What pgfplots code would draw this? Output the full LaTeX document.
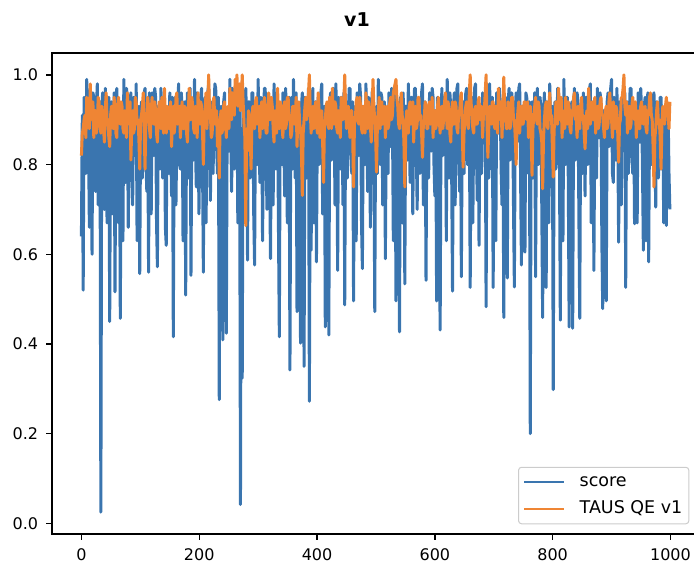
\documentclass[border=0pt]{standalone}
\usepackage{fontspec}
\setmainfont{DejaVu Sans}
\usepackage{pgfplots}
\usepackage{pgfplotstable}
\pgfplotsset{compat=1.18}
\definecolor{mblue}{RGB}{58,117,175}
\definecolor{morange}{RGB}{239,133,52}
\pgfplotstableread{
x score taus
0 0.64 0.82
1.5 0.91 0.87
3 0.52 0.88
4.5 0.95 0.90
6 0.93 0.91
7.5 0.78 0.86
9 0.99 0.95
10.5 0.84 0.92
12 0.86 0.93
13.5 0.66 0.88
15 0.97 0.98
16.5 0.90 0.91
18 0.60 0.90
19.5 0.96 0.94
21 0.95 0.86
22.5 0.80 0.92
24 0.74 0.92
25.5 0.93 0.87
27 0.98 0.89
28.5 0.71 0.95
30 0.81 0.94
31.5 0.94 0.89
33 0.025 0.87
34.5 0.92 0.93
36 0.96 0.91
37.5 0.83 0.88
39 0.70 0.85
40.5 0.97 0.92
42 0.93 0.96
43.5 0.67 0.90
45 0.88 0.90
46.5 0.95 0.86
48 0.45 0.84
49.5 0.90 0.91
51 0.94 0.93
52.5 0.69 0.89
54 0.78 0.88
55.5 0.96 0.95
57 0.516 0.92
58.5 0.88 0.87
60 0.97 0.86
61.5 0.80 0.93
63 0.67 0.95
64.5 0.93 0.90
66 0.457 0.89
67.5 0.85 0.94
69 0.91 0.93
70.5 0.63 0.88
72 0.99 0.87
73.5 0.89 0.92
75 0.76 0.91
76.5 0.97 0.86
78 0.95 0.96
79.5 0.66 0.91
81 0.84 0.89
82.5 0.94 0.94
84 0.96 0.81
85.5 0.79 0.89
87 0.71 0.92
88.5 0.95 0.87
90 0.93 0.88
91.5 0.82 0.95
93 0.98 0.94
94.5 0.63 0.89
96 0.80 0.90
97.5 0.93 0.86
99 0.557 0.79
100.5 0.90 0.90
102 0.94 0.91
103.5 0.77 0.93
105 0.87 0.96
106.5 0.96 0.88
108 0.97 0.79
109.5 0.81 0.91
111 0.74 0.90
112.5 0.92 0.95
114 0.56 0.93
115.5 0.96 0.88
117 0.92 0.86
118.5 0.69 0.92
120 0.96 0.95
121.5 0.88 0.90
123 0.82 0.89
124.5 0.97 0.94
126 0.95 0.92
127.5 0.67 0.87
129 0.572 0.85
130.5 0.93 0.91
132 0.91 0.94
133.5 0.79 0.89
135 0.97 0.88
136.5 0.85 0.95
138 0.77 0.91
139.5 0.95 0.87
141 0.94 0.97
142.5 0.66 0.90
144 0.62 0.87
145.5 0.92 0.93
147 0.89 0.92
148.5 0.78 0.88
150 0.96 0.90
151.5 0.86 0.94
153 0.73 0.84
154.5 0.95 0.90
156 0.416 0.93
157.5 0.91 0.87
159 0.95 0.89
160.5 0.71 0.95
162 0.88 0.96
163.5 0.93 0.89
165 0.98 0.91
166.5 0.80 0.93
168 0.79 0.86
169.5 0.96 0.91
171 0.93 0.94
172.5 0.63 0.88
174 0.69 0.88
175.5 0.94 0.93
177 0.509 0.92
178.5 0.89 0.87
180 0.96 0.85
181.5 0.77 0.92
183 0.90 0.97
184.5 0.97 0.90
186 0.553 0.90
187.5 0.92 0.95
189 0.94 0.93
190.5 0.81 0.88
192 0.99 0.87
193.5 0.85 0.93
195 0.75 0.91
196.5 0.96 0.86
198 0.92 0.96
199.5 0.69 0.90
201 0.85 0.89
202.5 0.95 0.94
204 0.97 0.93
205.5 0.82 0.88
207 0.56 0.80
208.5 0.93 0.91
210 0.95 0.92
211.5 0.67 0.96
213 0.81 0.88
214.5 0.96 0.93
216 0.98 1.00
217.5 0.87 0.92
219 0.72 0.91
220.5 0.93 0.86
222 0.94 0.87
223.5 0.78 0.94
225 0.89 0.95
226.5 0.98 0.89
228 0.97 0.90
229.5 0.84 0.92
231 0.78 0.84
232.5 0.95 0.89
234 0.276 0.77
235.5 0.90 0.90
237 0.93 0.92
238.5 0.80 0.87
240 0.409 0.88
241.5 0.94 0.93
243 0.96 0.94
244.5 0.71 0.90
246 0.424 0.86
247.5 0.92 0.92
249 0.91 0.93
250.5 0.83 0.88
252 0.99 0.97
253.5 0.88 0.93
255 0.74 0.90
256.5 0.97 0.96
258 0.95 0.95
259.5 0.79 0.91
261 0.86 0.99
262.5 0.95 0.94
264 0.98 1.00
265.5 0.67 0.93
267 0.80 0.96
268.5 0.93 0.98
270 0.042 0.92
271.5 0.88 0.95
273 0.324 1.00
274.5 0.95 0.94
276 0.92 0.89
277.5 0.81 0.86
279 0.97 0.664
280.5 0.90 0.88
282 0.587 0.83
283.5 0.94 0.92
285 0.94 0.91
286.5 0.77 0.87
288 0.88 0.79
289.5 0.96 0.90
291 0.96 0.93
292.5 0.69 0.89
294 0.576 0.88
295.5 0.93 0.94
297 0.91 0.95
298.5 0.80 0.89
300 0.99 0.90
301.5 0.86 0.93
303 0.76 0.86
304.5 0.95 0.91
306 0.93 0.94
307.5 0.63 0.88
309 0.85 0.89
310.5 0.97 0.95
312 0.97 0.92
313.5 0.82 0.87
315 0.70 0.87
316.5 0.94 0.92
318 0.95 0.96
319.5 0.78 0.90
321 0.59 0.90
322.5 0.91 0.95
324 0.92 0.93
325.5 0.71 0.88
327 0.98 0.85
328.5 0.88 0.92
330 0.79 0.91
331.5 0.96 0.87
333 0.94 0.97
334.5 0.66 0.91
336 0.416 0.88
337.5 0.93 0.94
339 0.90 0.92
340.5 0.80 0.89
342 0.96 0.86
343.5 0.87 0.93
345 0.73 0.94
346.5 0.97 0.88
348 0.93 0.89
349.5 0.67 0.95
351 0.88 0.95
352.5 0.95 0.90
354 0.342 0.91
355.5 0.90 0.86
357 0.95 0.87
358.5 0.79 0.93
360 0.99 0.93
361.5 0.84 0.89
363 0.77 0.90
364.5 0.96 0.95
366 0.472 0.84
367.5 0.89 0.91
369 0.92 0.94
370.5 0.63 0.89
372 0.402 0.88
373.5 0.93 0.83
375 0.96 0.731
376.5 0.82 0.87
378 0.35 0.90
379.5 0.95 0.93
381 0.94 0.95
382.5 0.77 0.90
384 0.89 0.92
385.5 0.97 0.96
387 0.272 1.00
388.5 0.91 0.92
390 0.609 0.87
391.5 0.95 0.91
393 0.97 0.93
394.5 0.67 0.88
396 0.83 0.89
397.5 0.94 0.94
399 0.583 0.91
400.5 0.90 0.87
402 0.95 0.96
403.5 0.80 0.92
405 0.90 0.86
406.5 0.96 0.90
408 0.98 0.92
409.5 0.69 0.85
411 0.75 0.76
412.5 0.93 0.88
414 0.438 0.90
415.5 0.88 0.93
417 0.93 0.94
418.5 0.78 0.89
420 0.42 0.88
421.5 0.94 0.95
423 0.96 0.92
424.5 0.81 0.88
426 0.84 0.97
427.5 0.97 0.91
429 0.92 0.89
430.5 0.71 0.94
432 0.98 0.93
433.5 0.87 0.88
435 0.564 0.87
436.5 0.95 0.92
438 0.91 0.91
439.5 0.79 0.86
441 0.95 0.95
442.5 0.90 0.90
444 0.71 0.90
445.5 0.96 0.94
447 0.487 1.00
448.5 0.92 0.93
450 0.94 0.88
451.5 0.77 0.91
453 0.89 0.93
454.5 0.97 0.89
456 0.97 0.86
457.5 0.83 0.92
459 0.78 0.92
460.5 0.94 0.87
462 0.496 0.75
463.5 0.91 0.89
465 0.93 0.90
466.5 0.63 0.94
468 0.96 0.95
469.5 0.88 0.90
471 0.82 0.89
472.5 0.98 0.95
474 0.95 0.93
475.5 0.67 0.88
477 0.568 0.87
478.5 0.93 0.93
480 0.91 0.91
481.5 0.80 0.87
483 0.98 0.96
484.5 0.86 0.92
486 0.74 0.88
487.5 0.95 0.94
489 0.94 0.92
490.5 0.66 0.89
492 0.87 0.85
493.5 0.96 0.92
495 0.97 0.99
496.5 0.84 0.93
498 0.472 0.90
499.5 0.92 0.86
501 0.93 0.783
502.5 0.78 0.89
504 0.99 0.92
505.5 0.89 0.95
507 0.80 0.88
508.5 0.96 0.91
510 0.95 0.94
511.5 0.71 0.89
513 0.72 0.90
514.5 0.94 0.93
516 0.59 0.86
517.5 0.90 0.91
519 0.92 0.93
520.5 0.78 0.88
522 0.96 0.89
523.5 0.87 0.94
525 0.84 0.95
526.5 0.97 0.90
528 0.91 0.91
529.5 0.63 0.96
531 0.97 0.97
532.5 0.93 0.98
534 0.496 0.99
535.5 0.89 0.95
537 0.94 0.93
538.5 0.79 0.89
540 0.427 0.88
541.5 0.95 0.92
543 0.89 0.96
544.5 0.67 0.91
546 0.96 0.90
547.5 0.91 0.85
549 0.534 0.75
550.5 0.93 0.86
552 0.93 0.92
553.5 0.81 0.88
555 0.98 0.87
556.5 0.88 0.93
558 0.76 0.94
559.5 0.95 0.89
561 0.95 0.90
562.5 0.69 0.94
564 0.88 0.85
565.5 0.97 0.91
567 0.97 0.93
568.5 0.84 0.88
570 0.70 0.89
571.5 0.93 0.95
573 0.94 0.95
574.5 0.78 0.90
576 0.90 0.91
577.5 0.96 0.87
579 0.98 0.816
580.5 0.71 0.89
582 0.79 0.90
583.5 0.94 0.94
585 0.542 0.93
586.5 0.90 0.88
588 0.93 0.88
589.5 0.77 0.93
591 0.96 0.94
592.5 0.86 0.89
594 0.83 0.90
595.5 0.97 0.95
597 0.95 0.86
598.5 0.80 0.92
600 0.73 0.92
601.5 0.92 0.88
603 0.496 0.89
604.5 0.95 0.93
606 0.92 0.95
607.5 0.67 0.90
609 0.431 0.87
610.5 0.91 0.92
612 0.97 0.93
613.5 0.82 0.88
615 0.86 0.90
616.5 0.95 0.94
618 0.94 0.96
619.5 0.63 0.91
621 0.99 0.88
622.5 0.88 0.94
624 0.77 0.92
625.5 0.96 0.87
627 0.93 0.85
628.5 0.79 0.91
630 0.518 0.94
631.5 0.92 0.89
633 0.96 0.89
634.5 0.71 0.94
636 0.89 0.93
637.5 0.97 0.88
639 0.98 0.87
640.5 0.83 0.92
642 0.74 0.91
643.5 0.94 0.95
645 0.55 0.96
646.5 0.90 0.88
648 0.94 0.794
649.5 0.78 0.87
651 0.91 0.90
652.5 0.96 0.93
654 0.97 0.94
655.5 0.80 0.89
657 0.81 0.88
658.5 0.95 0.96
660 0.526 1.00
661.5 0.89 0.94
663 0.95 0.91
664.5 0.67 0.88
666 0.90 0.87
667.5 0.97 0.92
669 0.98 0.93
670.5 0.84 0.89
672 0.72 0.89
673.5 0.93 0.94
675 0.62 0.95
676.5 0.91 0.90
678 0.93 0.90
679.5 0.78 0.93
681 0.96 0.86
682.5 0.88 0.91
684 0.85 0.92
685.5 0.96 0.96
687 0.483 1.00
688.5 0.92 0.90
690 0.94 0.816
691.5 0.77 0.88
693 0.98 0.93
694.5 0.87 0.90
696 0.79 0.89
697.5 0.95 0.94
699 0.526 0.94
700.5 0.90 0.89
702 0.92 0.88
703.5 0.63 0.93
705 0.96 0.92
706.5 0.89 0.87
708 0.87 0.97
709.5 0.97 0.91
711 0.94 0.90
712.5 0.79 0.94
714 0.71 0.86
715.5 0.93 0.92
717 0.459 0.995
718.5 0.91 0.93
720 0.95 0.91
721.5 0.67 0.88
723 0.547 0.88
724.5 0.94 0.94
726 0.97 0.93
727.5 0.81 0.88
729 0.83 0.89
730.5 0.96 0.95
732 0.93 0.95
733.5 0.71 0.90
735 0.527 0.90
736.5 0.92 0.86
738 0.96 0.80
739.5 0.85 0.89
741 0.89 0.92
742.5 0.97 0.94
744 0.98 0.87
745.5 0.78 0.91
747 0.576 0.93
748.5 0.93 0.89
750 0.92 0.89
751.5 0.63 0.94
753 0.605 0.94
754.5 0.96 0.91
756 0.95 0.90
757.5 0.86 0.94
759 0.78 0.86
760.5 0.94 0.91
762 0.20 0.93
763.5 0.90 0.87
765 0.94 0.776
766.5 0.77 0.88
768 0.88 0.91
769.5 0.96 0.93
771 0.55 0.95
772.5 0.92 0.90
774 0.97 0.89
775.5 0.80 0.94
777 0.82 0.93
778.5 0.95 0.88
780 0.93 0.87
781.5 0.71 0.85
783 0.459 0.746
784.5 0.91 0.86
786 0.96 0.90
787.5 0.83 0.93
789 0.526 0.94
790.5 0.94 0.89
792 0.91 0.88
793.5 0.67 0.93
795 0.98 0.96
796.5 0.89 0.90
798 0.75 0.91
799.5 0.93 0.84
801 0.298 0.772
802.5 0.90 0.88
804 0.94 0.89
805.5 0.79 0.94
807 0.87 0.93
808.5 0.97 0.89
810 0.96 0.97
811.5 0.82 0.92
813 0.453 0.90
814.5 0.93 0.95
816 0.93 0.86
817.5 0.63 0.91
819 0.99 0.92
820.5 0.88 0.88
822 0.80 0.95
823.5 0.95 0.90
825 0.95 0.89
826.5 0.77 0.94
828 0.438 0.93
829.5 0.90 0.88
831 0.90 0.87
832.5 0.94 0.92
834 0.435 0.91
835.5 0.92 0.95
837 0.97 0.96
838.5 0.81 0.90
840 0.84 0.90
841.5 0.96 0.86
843 0.94 0.93
844.5 0.69 0.89
846 0.457 0.88
847.5 0.91 0.93
849 0.92 0.95
850.5 0.78 0.90
852 0.96 0.91
853.5 0.89 0.87
855 0.73 0.835
856.5 0.95 0.89
858 0.95 0.92
859.5 0.80 0.88
861 0.89 0.97
862.5 0.97 0.93
864 0.98 0.89
865.5 0.67 0.92
867 0.81 0.94
868.5 0.94 0.90
870 0.564 0.90
871.5 0.90 0.95
873 0.93 0.87
874.5 0.77 0.92
876 0.97 0.93
877.5 0.86 0.88
879 0.86 0.89
880.5 0.96 0.94
882 0.94 0.95
883.5 0.63 0.91
885 0.479 0.91
886.5 0.92 0.88
888 0.91 0.86
889.5 0.79 0.92
891 0.496 0.93
892.5 0.94 0.88
894 0.96 0.89
895.5 0.84 0.94
897 0.88 0.96
898.5 0.97 0.91
900 0.99 0.90
901.5 0.78 0.86
903 0.76 0.94
904.5 0.95 0.90
906 0.93 0.88
907.5 0.81 0.93
909 0.97 0.92
910.5 0.88 0.87
912 0.627 0.805
913.5 0.94 0.89
915 0.92 0.90
916.5 0.71 0.95
918 0.95 0.95
919.5 0.90 0.97
921 0.83 1.00
922.5 0.96 0.93
924 0.526 0.91
925.5 0.91 0.94
927 0.94 0.87
928.5 0.78 0.92
930 0.90 0.93
931.5 0.97 0.88
933 0.97 0.89
934.5 0.82 0.93
936 0.78 0.95
937.5 0.94 0.91
939 0.668 0.90
940.5 0.91 0.94
942 0.93 0.86
943.5 0.67 0.90
945 0.96 0.92
946.5 0.88 0.88
948 0.85 0.88
949.5 0.97 0.93
951 0.92 0.94
952.5 0.79 0.90
954 0.609 0.89
955.5 0.93 0.92
957 0.95 0.93
958.5 0.63 0.88
960 0.89 0.87
961.5 0.96 0.92
963 0.583 0.91
964.5 0.90 0.95
966 0.94 0.96
967.5 0.80 0.91
969 0.87 0.90
970.5 0.95 0.84
972 0.96 0.75
973.5 0.83 0.86
975 0.705 0.88
976.5 0.94 0.92
978 0.93 0.94
979.5 0.77 0.89
981 0.81 0.90
982.5 0.95 0.86
984 0.95 0.79
985.5 0.88 0.89
987 0.90 0.93
988.5 0.67 0.90
990 0.74 0.89
991.5 0.93 0.93
993 0.664 0.95
994.5 0.89 0.92
996 0.92 0.91
997.5 0.78 0.88
999 0.70 0.94
}\runs

\begin{document}
\begin{tikzpicture}
\begin{axis}[
  at={(0pt,0pt)}, anchor=south west,
  scale only axis, width=647.3pt, height=481pt,
  xmin=-49.95, xmax=1048.95,
  ymin=-0.02375, ymax=1.04875,
  xtick={0,200,400,600,800,1000},
  ytick={0,0.2,0.4,0.6,0.8,1.0},
  tick pos=left, tick align=outside,
  major tick length=5.8pt,
  every tick/.style={black, line width=1.3pt},
  axis line style={black, line width=1.3pt},
  /pgf/number format/assume math mode=true,
  /pgf/number format/1000 sep={},
  tick label style={font=\fontsize{16}{19}\selectfont},
  xticklabel style={yshift=-5pt},
  yticklabel style={xshift=-4.5pt, /pgf/number format/.cd, fixed, fixed zerofill, precision=1},
  legend style={at={(0.9846,0.0202)}, anchor=south east, draw=black!20,
    line width=1pt, rounded corners=3pt, fill=white,
    font=\fontsize{17.5}{21}\selectfont,
    inner xsep=4.5pt, inner ysep=5pt, row sep=7.5pt,
    nodes={inner sep=2pt, text height=12.5pt, text depth=3pt},
    /tikz/every odd column/.append style={column sep=12pt}},
  legend cell align=left,
  legend image code/.code={\draw[#1, line width=2.6pt, line cap=butt] (0pt,0pt) -- (40pt,0pt);},
]
\addplot[mblue, line width=3pt, line join=round, no marks] table[x=x, y=score] {\runs};
\addlegendentry{score}
\addplot[morange, line width=3pt, line join=round, no marks] table[x=x, y=taus] {\runs};
\addlegendentry{TAUS QE v1}
\end{axis}
\node[font=\bfseries\fontsize{19}{23}\selectfont] at (305pt,514pt) {v1};
\pgfresetboundingbox
\path[use as bounding box] (-52pt,-30pt) rectangle (642pt,534pt);
\end{tikzpicture}
\end{document}
